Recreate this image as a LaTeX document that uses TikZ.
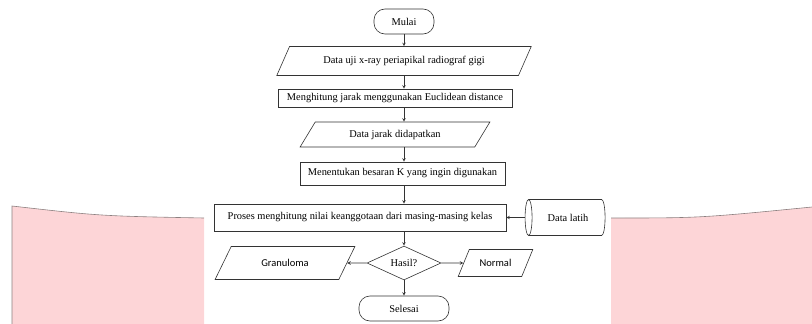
\documentclass[tikz,border=0pt]{standalone}
\usepackage{fontspec}
\setmainfont{Liberation Serif}
\newfontfamily\carlito{Carlito}
\usetikzlibrary{shapes.geometric,positioning}
\definecolor{pinkbg}{HTML}{FDD5D7}
\definecolor{rim}{HTML}{8C8080}
\definecolor{ink}{HTML}{333333}

\begin{document}
\begin{tikzpicture}[>=stealth, x=1pt, y=1pt, on grid, line width=0.6pt, font=\fontsize{10.4}{12}\selectfont]
\tikzstyle{terminal}=[rectangle, rounded corners=11pt, draw=ink, minimum height=25pt]
\tikzstyle{process}=[rectangle, draw=ink, inner sep=2pt]
\tikzstyle{io}=[trapezium, trapezium left angle=60, trapezium right angle=120, trapezium stretches=true, draw=ink]
\tikzstyle{decision}=[diamond, draw=ink, minimum width=74pt, minimum height=31pt, inner sep=0pt]
\tikzstyle{store}=[cylinder, shape border rotate=180, aspect=0.5, draw=ink, minimum width=36pt, minimum height=80pt]
\tikzstyle{line}=[->, draw=ink]

	\useasboundingbox (0,0) rectangle (812,-324);
	% pink background
	\fill[pinkbg] (12,-206) .. controls (100,-216) .. (204,-218) -- (204,-324) -- (12,-324) -- cycle;
	\draw[rim] (12,-324) -- (12,-206) .. controls (100,-216) .. (204,-218);
	\fill[pinkbg] (611,-218) .. controls (700,-218) .. (812,-207) -- (812,-324) -- (611,-324) -- cycle;
	\draw[rim] (611,-218) .. controls (700,-218) .. (812,-207);

	\node[terminal, minimum width=60pt] (mulai) at (404,-21.5) {Mulai};
	\node[io, minimum width=255pt, minimum height=29pt] (datauji) [below=39.5pt of mulai] {Data uji x-ray periapikal radiograf gigi};
	\node[process, minimum width=234pt, minimum height=18pt] (menghitung) [below left=37pt and 9pt of datauji] {Menghitung jarak menggunakan Euclidean distance};
	\node[io, minimum width=190pt, minimum height=25pt] (datajarak) [below=36.5pt of menghitung] {Data jarak didapatkan};
	\node[process, minimum width=205pt, minimum height=23pt] (menentukan) [below right=39pt and 7.5pt of datajarak] {Menentukan besaran K yang ingin digunakan};
	\node[process, minimum width=292pt, minimum height=27pt] (proses) [below left=44pt and 42.5pt of menentukan] {Proses menghitung nilai keanggotaan dari masing-masing kelas};
	\node[store] (latih) [right=208pt of proses] {Data latih};
	\node[decision] (hasil) [below right=45.5pt and 44pt of proses] {Hasil?};
	\node[io, font=\carlito\fontsize{10.5}{12}\selectfont, minimum width=140pt, minimum height=33pt] (granuloma) [left=119pt of hasil] {Granuloma};
	\node[io, font=\carlito\fontsize{10.5}{12}\selectfont, minimum width=75pt, minimum height=27pt] (normal) [right=91.5pt of hasil] {Normal};
	\node[terminal, minimum width=90pt] (selesai) [below=45.5pt of hasil] {Selesai};

	\draw[line] (mulai) -- (mulai |- datauji.north);
	\draw[line] (datauji.south -| mulai) -- (menghitung.north -| mulai);
	\draw[line] (menghitung.south -| mulai) -- (datajarak.north -| mulai);
	\draw[line] (datajarak.south -| mulai) -- (menentukan.north -| mulai);
	\draw[line] (menentukan.south -| mulai) -- (proses.north -| mulai);
	\draw[line] (latih) -- (proses);
	\draw[line] (proses.south -| mulai) -- (hasil);
	\draw[line] (hasil) -- (granuloma);
	\draw[line] (hasil) -- (normal);
	\draw[line] (hasil) -- (selesai);
\end{tikzpicture}
\end{document}
